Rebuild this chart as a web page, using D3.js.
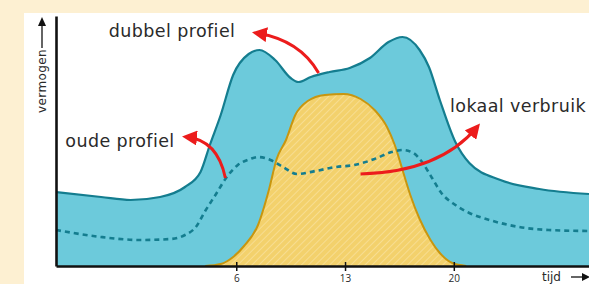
<!DOCTYPE html>
<html>
<head>
<meta charset="utf-8">
<script src="https://cdn.jsdelivr.net/npm/d3@7"></script>
<style>
  body { margin: 0; background: #fdf0d2; overflow: hidden; }
  text { font-family: "DejaVu Sans", "Noto Sans", sans-serif; fill: #2a2a2a; }
</style>
</head>
<body>
<script>
// [uur, vermogen] pairs
var dubbelProfiel = [[-5.6, 29.6], [-2.7, 27.6], [-0.8, 26.4], [1.1, 27.6], [2.7, 31.6], [3.7, 37.6],
  [4.3, 48.4], [5.0, 60.4], [5.8, 76.4], [6.8, 84.8], [7.5, 86.4], [8.5, 82.4], [9.5, 75.2],
  [10.0, 73.6], [10.8, 75.6], [12.0, 77.6], [13.3, 79.2], [14.6, 83.2], [15.8, 89.6], [16.7, 91.6],
  [17.8, 86.4], [18.4, 79.6], [19.1, 66.4], [20.1, 49.6], [21.0, 41.2], [23.0, 34.4], [25.5, 30.8], [28.7, 28.8]];

var oudeProfiel = [[-5.6, 14.4], [-2.7, 11.6], [-0.2, 10.4], [1.8, 10.8], [2.7, 12.4], [3.4, 15.6],
  [4.0, 22], [4.7, 28.8], [5.3, 34.8], [6.1, 40.4], [6.9, 42.8], [7.4, 43.6], [8.2, 42.4], [9.0, 39.6],
  [9.9, 36.8], [11.1, 38], [12.4, 39.6], [13.6, 40.4], [14.9, 42.8], [16.0, 45.6], [16.7, 46.4],
  [17.4, 45.2], [18.0, 41.2], [18.6, 35.2], [19.2, 29.2], [20.1, 24.4], [21.0, 21.2], [22.3, 18.4],
  [24.2, 15.6], [26.1, 14.4], [28.7, 14]];

var lokaalVerbruik = [[4.0, 0], [5.0, 0.8], [5.8, 3.6], [6.5, 8], [7.4, 16.4], [8.1, 30.4], [8.6, 42.8],
  [9.2, 50.4], [9.8, 60.4], [10.6, 66], [11.7, 68.4], [12.9, 68.8], [14.0, 66.8], [14.9, 62.4],
  [15.7, 55.6], [16.2, 48.4], [16.7, 38.4], [17.2, 28.4], [17.8, 18.8], [18.5, 10.4], [19.1, 5.2],
  [19.9, 1.2], [20.8, 0]];

var xTicks = [6, 13, 20];

// annotation arrows: [start, control, tip] in [uur, vermogen]
var pijlen = [
  [[11.3, 77.2], [10.1, 90.4], [7.3, 93.2]],
  [[5.3, 35.2], [4.8, 50.4], [2.8, 51.6]],
  [[14.0, 36.8], [19.1, 37.6], [21.5, 55.6]]
];
var labels = [
  { text: "dubbel profiel", h: -2.2, v: 91.6 },
  { text: "oude profiel", h: -5.0, v: 47.6 },
  { text: "lokaal verbruik", h: 20.6, v: 61.6 }
];

var width = 589, height = 284;

var svg = d3.select("body").append("svg")
  .attr("width", width)
  .attr("height", height);

svg.append("rect")
  .attr("x", 24).attr("y", 13)
  .attr("width", width - 24).attr("height", height - 13)
  .attr("fill", "#ffffff");

var x = d3.scaleLinear().domain([-5.6, 28.7]).range([56, 589]);
var y = d3.scaleLinear().domain([0, 100]).range([266, 16]);

var defs = svg.append("defs");
var pat = defs.append("pattern")
  .attr("id", "hatch")
  .attr("patternUnits", "userSpaceOnUse")
  .attr("width", 5).attr("height", 5)
  .attr("patternTransform", "rotate(45)");
pat.append("rect").attr("width", 5).attr("height", 5).attr("fill", "#f3d16c");
pat.append("line").attr("x1", 0).attr("y1", 0).attr("x2", 0).attr("y2", 5)
  .attr("stroke", "#f8e09a").attr("stroke-width", 1.6);

defs.append("marker")
  .attr("id", "head")
  .attr("markerUnits", "userSpaceOnUse")
  .attr("viewBox", "0 0 10 10")
  .attr("refX", 7).attr("refY", 5)
  .attr("markerWidth", 15).attr("markerHeight", 15)
  .attr("orient", "auto")
  .append("path")
  .attr("d", "M0,0 L10,5 L0,10 Z")
  .attr("fill", "#ec1c1c");

var area = d3.area()
  .x(function(d) { return x(d[0]); })
  .y0(y(0))
  .y1(function(d) { return y(d[1]); })
  .curve(d3.curveMonotoneX);
var line = d3.line()
  .x(function(d) { return x(d[0]); })
  .y(function(d) { return y(d[1]); })
  .curve(d3.curveMonotoneX);

svg.append("path").datum(dubbelProfiel)
  .attr("d", area)
  .attr("fill", "#6ccadb");
svg.append("path").datum(dubbelProfiel)
  .attr("d", line)
  .attr("fill", "none")
  .attr("stroke", "#147d8f")
  .attr("stroke-width", 2.2);

svg.append("path").datum(lokaalVerbruik)
  .attr("d", area)
  .attr("fill", "url(#hatch)");
svg.append("path").datum(lokaalVerbruik)
  .attr("d", line)
  .attr("fill", "none")
  .attr("stroke", "#c8960f")
  .attr("stroke-width", 2);

svg.append("path").datum(oudeProfiel)
  .attr("d", line)
  .attr("fill", "none")
  .attr("stroke", "#147d8f")
  .attr("stroke-width", 2.6)
  .attr("stroke-dasharray", "5,4");

// red arrows
svg.selectAll(".pijl")
  .data(pijlen)
  .enter()
  .append("path")
  .attr("class", "pijl")
  .attr("d", function(p) {
    return "M" + x(p[0][0]) + "," + y(p[0][1]) +
      " Q" + x(p[1][0]) + "," + y(p[1][1]) +
      " " + x(p[2][0]) + "," + y(p[2][1]);
  })
  .attr("fill", "none")
  .attr("stroke", "#ec1c1c")
  .attr("stroke-width", 3)
  .attr("marker-end", "url(#head)");

// axes
var xAxis = d3.axisBottom(x).tickValues(xTicks).tickSize(5).tickSizeOuter(0).tickPadding(4);
var gx = svg.append("g")
  .attr("transform", "translate(0," + y(0) + ")")
  .call(xAxis);
gx.select(".domain").attr("stroke", "#111").attr("stroke-width", 2.6);
gx.selectAll(".tick line").attr("y1", -4).attr("stroke", "#111").attr("stroke-width", 1.5);
gx.selectAll(".tick text").style("font-size", "10px").style("font-family", "'Open Sans', sans-serif").attr("fill", "#333");

var yAxis = d3.axisLeft(y).tickValues([]).tickSizeOuter(0);
var gy = svg.append("g")
  .attr("transform", "translate(" + x.range()[0] + ",0)")
  .call(yAxis);
gy.select(".domain").attr("stroke", "#111").attr("stroke-width", 2.6);

// axis titles
svg.append("text")
  .attr("transform", "translate(46,113) rotate(-90)")
  .style("font-size", "12px")
  .style("letter-spacing", "0.4px")
  .text("vermogen");
svg.append("line")
  .attr("x1", 42).attr("y1", 48).attr("x2", 42).attr("y2", 25)
  .attr("stroke", "#111").attr("stroke-width", 1.3);
svg.append("path")
  .attr("d", "M38,26 L42,17 L46,26 Z")
  .attr("fill", "#111");

svg.append("text")
  .attr("x", 542).attr("y", 281)
  .style("font-size", "12px")
  .text("tijd");
svg.append("line")
  .attr("x1", 571).attr("y1", 277).attr("x2", 583).attr("y2", 277)
  .attr("stroke", "#111").attr("stroke-width", 1.3);
svg.append("path")
  .attr("d", "M582,273 L590,277 L582,281 Z")
  .attr("fill", "#111");

svg.selectAll(".label")
  .data(labels)
  .enter()
  .append("text")
  .attr("class", "label")
  .attr("y", function(d) { return y(d.v); })
  .style("font-size", "17.5px")
  .style("letter-spacing", "0.4px")
  .text(function(d) { return d.text; })
  .attr("x", function(d) {
    // keep the label inside the picture
    var len = this.getComputedTextLength();
    return Math.min(x(d.h), width - 3 - len);
  });
</script>
</body>
</html>
